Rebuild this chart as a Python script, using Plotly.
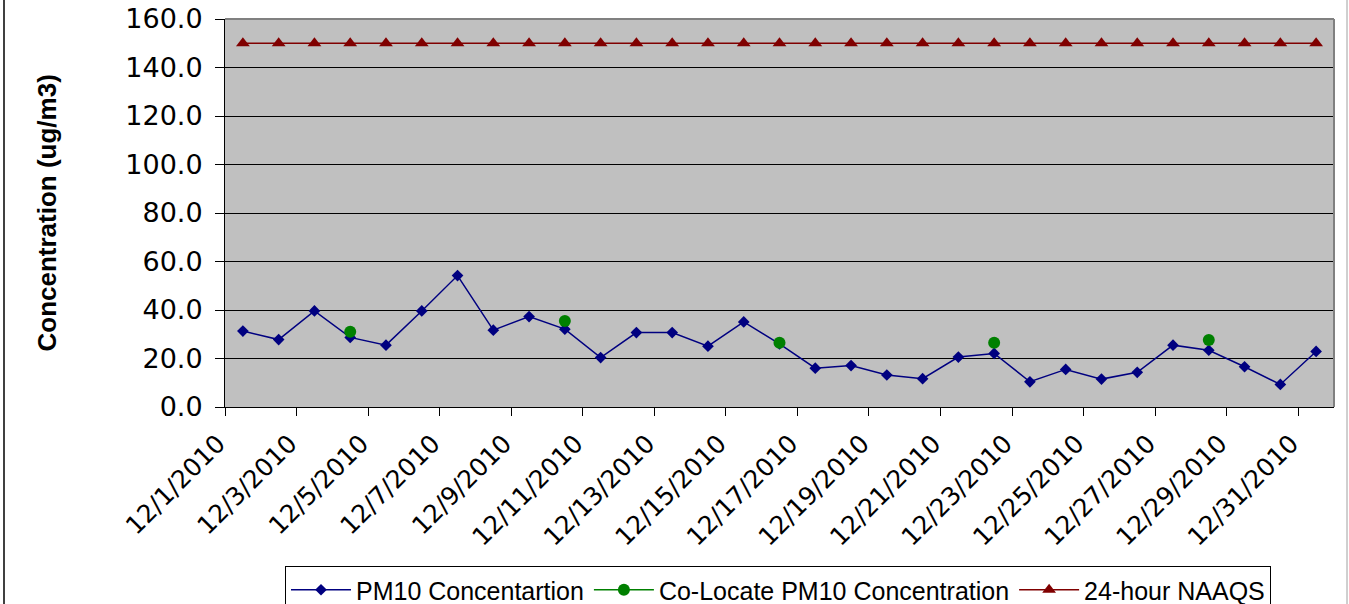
import plotly.graph_objects as go

dates = ["12/%d/2010" % d for d in range(1, 32)]
pm10 = [31.3, 27.8, 39.6, 28.7, 25.5, 39.6, 54.2, 31.7, 37.3, 32.1, 20.4,
        30.7, 30.7, 25.1, 35.1, 26.0, 16.0, 17.1, 13.2, 11.7, 20.6, 22.1,
        10.4, 15.5, 11.5, 14.3, 25.5, 23.4, 16.6, 9.3, 22.9]
colocate = [None, None, None, 31.0, None, None, None, None, None, 35.5, None,
            None, None, None, None, 26.5, None, None, None, None, None, 26.5,
            None, None, None, None, None, 27.6, None, None, None]
naaqs = [150.0] * 31
tick_labels = dates[::2]
y_ticks = [0, 20, 40, 60, 80, 100, 120, 140, 160]

idx = list(range(len(dates)))

fig = go.Figure()
fig.add_trace(go.Scatter(
    x=idx, y=pm10, name="PM10 Concentartion", mode="lines+markers",
    line=dict(color="#000080", width=1.5),
    marker=dict(symbol="diamond", size=9, color="#000080")))
fig.add_trace(go.Scatter(
    x=idx, y=colocate, name="Co-Locate PM10 Concentration", mode="lines+markers",
    connectgaps=False,
    line=dict(color="#008000", width=1.5),
    marker=dict(symbol="circle", size=12, color="#008000")))
fig.add_trace(go.Scatter(
    x=idx, y=naaqs, name="24-hour NAAQS", mode="lines+markers",
    line=dict(color="#800000", width=1.5),
    marker=dict(symbol="triangle-up", size=12, color="#800000")))

L, R, T, B = 225, 15, 19, 197
W, H = 1349, 604
pw = W - L - R
ph = H - T - B

def px_x(p):
    return (p - L) / pw

def px_y(p):
    return (H - B - p) / ph

fig.update_layout(
    width=W, height=H,
    margin=dict(l=L, r=R, t=T, b=B, pad=0, autoexpand=False),
    paper_bgcolor="white", plot_bgcolor="#C0C0C0",
    font=dict(family="DejaVu Sans", color="black"),
    showlegend=True,
    legend=dict(orientation="h", x=px_x(778), xanchor="center",
                y=px_y(566), yanchor="top",
                bordercolor="black", borderwidth=1, bgcolor="white",
                font=dict(family="Liberation Sans", size=25, color="black"),
                itemwidth=60),
    xaxis=dict(range=[-0.5, 30.5], tickmode="array",
               tickvals=[i - 0.5 for i in idx[::2]], ticktext=tick_labels,
               tickangle=-45, ticks="outside", ticklen=8, tickcolor="black",
               showgrid=False, zeroline=False, showline=True, automargin=False,
               linecolor="black", linewidth=1,
               ticklabelstandoff=3, ticklabelshift=-7,
               tickfont=dict(family="DejaVu Sans", size=25, color="black")),
    yaxis=dict(range=[0, 160], tickmode="array", tickvals=y_ticks,
               ticktext=["%.1f" % v for v in y_ticks],
               ticks="outside", ticklen=9, tickcolor="black",
               showgrid=True, gridcolor="black", gridwidth=1, automargin=False,
               zeroline=False, showline=True, linecolor="black", linewidth=1,
               ticklabelstandoff=7,
               tickfont=dict(family="DejaVu Sans", size=27, color="black")),
    annotations=[dict(text="<b>Concentration (ug/m3)</b>", textangle=-90,
                      xref="paper", yref="paper", x=px_x(46.5), y=0.5,
                      xanchor="center", yanchor="middle", showarrow=False,
                      font=dict(family="Liberation Sans", size=26, color="black"))],
    shapes=[
        dict(type="line", xref="paper", yref="paper", x0=0, x1=1, y0=1, y1=1,
             line=dict(color="#808080", width=2)),
        dict(type="line", xref="paper", yref="paper", x0=1, x1=1, y0=0, y1=1,
             line=dict(color="#808080", width=2)),
        dict(type="line", xref="paper", yref="paper", x0=px_x(4), x1=px_x(4),
             y0=px_y(-5), y1=px_y(610), line=dict(color="black", width=1.5)),
        dict(type="line", xref="paper", yref="paper", x0=px_x(1347), x1=px_x(1347),
             y0=px_y(-5), y1=px_y(610), line=dict(color="#A0A0A0", width=1)),
    ],
)

fig.write_html("out.html", config={"displayModeBar": False},
               post_script="document.body.style.margin='0';")
